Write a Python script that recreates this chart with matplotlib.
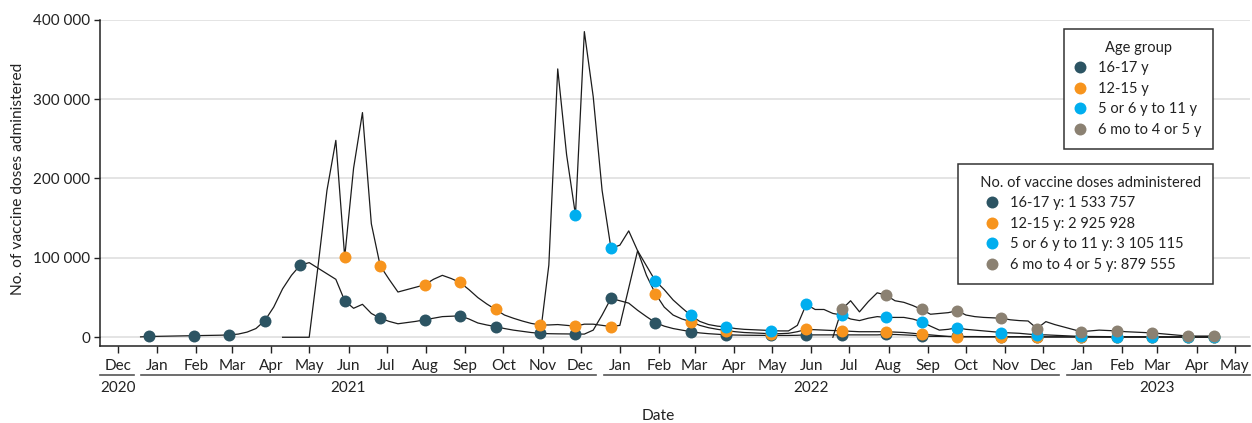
import matplotlib.pyplot as plt
import matplotlib.dates as mdates
import numpy as np
import pandas as pd
from matplotlib.lines import Line2D
from matplotlib.ticker import FuncFormatter

plt.rcParams['font.family'] = ['Lato', 'DejaVu Sans']
plt.rcParams['text.color'] = '#222222'
plt.rcParams['axes.labelcolor'] = '#222222'
plt.rcParams['xtick.color'] = '#222222'
plt.rcParams['ytick.color'] = '#222222'

# Weekly doses administered (thousands), weeks ending on Saturday
age_groups = ['16-17 y', '12-15 y', '5 or 6 y to 11 y', '6 mo to 4 or 5 y']
total_doses = [1533757, 2925928, 3105115, 879555]
first_week = ['2020-12-19', '2021-04-10', '2021-10-30', '2022-06-18']
group_colors = ['#2c5463', '#f7941d', '#00aeef', '#8b8172']

doses_16_17 = [
    0.5, 1, 1.2, 1.4, 1.6, 1.8, 2, 2.2, 2.4, 2.6,
    3, 4, 6.5, 11, 21, 38, 61, 78, 91, 94,
    87, 80, 73, 46, 36.5, 41.5, 30, 24, 20, 17,
    18.5, 20, 22, 24, 26, 26.5, 27, 23, 18, 15.5,
    13.4, 11, 9, 7.5, 6, 5, 4.5, 4.3, 4.2, 4,
    4, 9, 28, 49, 46, 43, 34, 26, 18.5, 14,
    11, 9, 7, 5.5, 4.5, 3.8, 3, 2.8, 2.6, 2.5,
    2.4, 2.3, 2.3, 2.3, 2.5, 3, 3, 3, 3, 3,
    3, 3, 3, 3, 3.5, 3.5, 3, 2.5, 1.5, 1.2,
    1.1, 1, 1, 0.9, 0.9, 0.8, 0.8, 0.8, 0.7, 0.7,
    0.7, 0.6, 0.6, 0.6, 0.6, 0.5, 0.5, 0.5, 0.5, 0.5,
    0.4, 0.4, 0.4, 0.4, 0.4, 0.4, 0.3, 0.3, 0.3, 0.3,
    0.3, 0.3,
]

doses_12_15 = [
    0, 0, 0, 0,
    90, 185, 248, 101,
    213, 283, 143, 90,
    73, 57, 60, 63, 66,
    73, 78, 74, 69,
    60, 50, 42, 35,
    28, 24, 20.5, 17.5, 15.5,
    15.5, 16, 15, 14,
    16.5, 16.5, 15, 13.4,
    15, 62, 109, 78, 55,
    38, 28, 23, 19.7,
    15, 12, 10, 8.3,
    7, 6, 5.5, 5, 4.5,
    4.5, 5, 7, 10,
    9.5, 9, 8.5, 8.3,
    7.5, 7, 7, 7, 7,
    6.5, 6, 5, 4,
    3, 2, 1, 0.5,
    0.5, 0.5, 0.4, 0.4, 0.4,
    0.4, 0.4, 0.3, 0.3,
    0.3, 0.3, 0.3, 0.3, 0.3,
    0.3, 0.3, 0.2, 0.2,
    0.2, 0.2, 0.2, 0.2,
    0.2, 0.2, 0.2, 0.2,
    0.2, 0.2, 0.2,
]

doses_5_11 = [
    0,
    91, 338, 230, 154,
    385, 303, 185, 112,
    116, 134, 109, 90, 71,
    60, 47, 37, 27.5,
    20, 16, 14, 13,
    11, 10, 9.5, 9, 8.5,
    8, 8, 15, 41.5,
    35, 35, 30, 28,
    23, 21, 24, 26, 25,
    25, 25, 23, 19.7,
    14, 9, 10, 12,
    10, 9, 8, 7, 6,
    5.5, 5, 4, 3,
    3, 2.5, 2, 1.5, 1,
    1, 0.9, 0.8, 0.8,
    0.7, 0.7, 0.6, 0.6,
    0.5, 0.5, 0.5, 0.5,
    0.4, 0.4, 0.4,
]

doses_6mo_4 = [
    0, 35,
    46, 32, 45, 56, 53,
    46, 44, 40, 35,
    29, 30, 31, 33.5,
    28, 26, 25, 24.5, 24,
    22, 21, 20.5, 11,
    19.7, 16, 13, 10, 7,
    8, 9, 8.5, 8,
    7, 6.5, 6, 5.5,
    4.5, 3.5, 2.5, 1.6,
    1.5, 1.5, 1.5,
]

series = [doses_16_17, doses_12_15, doses_5_11, doses_6mo_4]


def month_end_points(dates, values):
    # one marker per month, on the last reported week with doses given
    months = dates.to_period('M')
    last = np.append(months[1:] != months[:-1], True)
    return np.flatnonzero(last & (values > 0))


def space_thousands(v, pos=None):
    return format(int(round(v)), ',').replace(',', ' ')


fig = plt.figure(figsize=(12.52, 4.23), dpi=100)
ax = fig.add_axes([100 / 1252, 77 / 423, 1150 / 1252, 326.3 / 423])

for i, (vals, start) in enumerate(zip(series, first_week)):
    dates = pd.date_range(start, periods=len(vals), freq='W-SAT')
    y = np.array(vals) * 1000
    ax.plot(dates, y, color='#1c1c1c', lw=0.9, zorder=2)
    idx = month_end_points(dates, y)
    ax.plot(dates[idx], y[idx], 'o', color=group_colors[i], ms=8.6, mew=0,
            zorder=3 + i)

x_left = pd.Timestamp('2020-11-17')
x_right = pd.Timestamp('2023-05-13')
ax.set_xlim(x_left, x_right)
ax.set_ylim(-11000, 400000)

ax.set_yticks(np.arange(0, 400001, 100000))
ax.yaxis.set_major_formatter(FuncFormatter(space_thousands))
ax.grid(axis='y', color='#e2e2e2', lw=1.3, zorder=0)
ax.set_axisbelow(True)

month_ticks = pd.date_range('2020-12-01', '2023-05-01', freq='MS')
ax.set_xticks(month_ticks)
ax.xaxis.set_major_formatter(mdates.DateFormatter('%b'))
ax.tick_params(axis='x', length=5, width=1, pad=4, labelsize=11)
ax.tick_params(axis='y', length=4, width=1, pad=3, labelsize=11)

for side in ['top', 'right']:
    ax.spines[side].set_visible(False)
for side in ['left', 'bottom']:
    ax.spines[side].set_linewidth(1.1)
    ax.spines[side].set_color('#222222')

# year groups under the month labels
xtrans = ax.get_xaxis_transform()
for year in sorted(set(month_ticks.year)):
    span_start = max(x_left, pd.Timestamp(f'{year - 1}-12-19 12:00'))
    span_end = min(x_right, pd.Timestamp(f'{year}-12-13 12:00'))
    ax.plot([span_start, span_end], [-0.089, -0.089], transform=xtrans,
            color='#555555', lw=1.2, clip_on=False)
    year_months = month_ticks[month_ticks.year == year]
    label_x = year_months[(len(year_months) - 1) // 2]
    ax.text(label_x, -0.129, str(year), transform=xtrans, ha='center',
            va='center', fontsize=11)

fig.text(658 / 1252, 1 - 416 / 423, 'Date', ha='center', va='center',
         fontsize=11.2)
fig.text(18 / 1252, 1 - 179 / 423, 'No. of vaccine doses administered',
         rotation=90, ha='center', va='center', fontsize=11.2)

handles = [Line2D([], [], ls='none', marker='o', ms=8.6, mew=0, color=c)
           for c in group_colors]
legend_style = dict(frameon=True, fancybox=False, framealpha=1,
                    edgecolor='#333333', fontsize=10.5, title_fontsize=10.5,
                    handlelength=0.6, handletextpad=0.94, labelspacing=0.45,
                    borderpad=0.8, borderaxespad=0, loc='upper right',
                    bbox_transform=fig.transFigure)

age_legend = ax.legend(handles, age_groups, title='Age group',
                       bbox_to_anchor=(1213 / 1252, 1 - 29 / 423),
                       **legend_style)
age_legend.get_frame().set_linewidth(1.1)
ax.add_artist(age_legend)

total_labels = [f'{g}: {space_thousands(t)}'
                for g, t in zip(age_groups, total_doses)]
total_legend = ax.legend(handles, total_labels,
                         title='   No. of vaccine doses administered',
                         bbox_to_anchor=(1213 / 1252, 1 - 164 / 423),
                         **legend_style)
total_legend.get_frame().set_linewidth(1.1)

fig.savefig('out.png', dpi=100)
